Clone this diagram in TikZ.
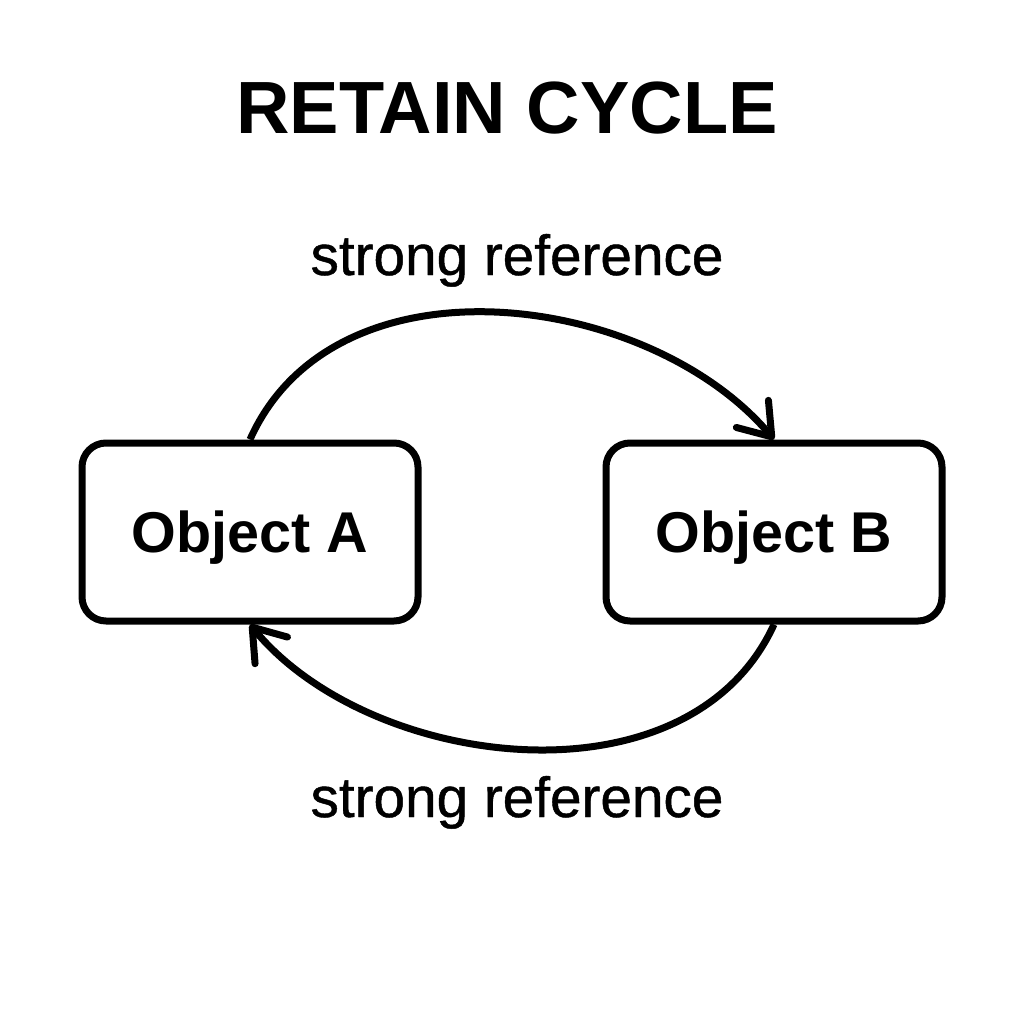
\documentclass[tikz,border=0pt]{standalone}
\usepackage{fontspec}
\setmainfont{Liberation Sans}
\usetikzlibrary{arrows.meta,calc}
\tikzstyle{line} = [draw, line width=7pt, -{Straight Barb[length=30pt,width=42pt,round]}]
\tikzstyle{object} = [draw, line width=7pt, rectangle, rounded corners=24pt, text centered, minimum width=336pt, minimum height=178pt, text depth=0pt, font=\fontsize{57.5}{68}\selectfont\bfseries]
\tikzstyle{reflabel} = [anchor=base, font=\fontsize{56.7}{68}\selectfont\addfontfeature{FakeBold=0.8}]
\tikzstyle{heading} = [font=\fontsize{74}{88}\selectfont\bfseries]

\begin{document}
\begin{tikzpicture}[x=1pt, y=-1pt]
        \useasboundingbox (0,0) rectangle (1024,1024);
        \node[heading] (title) at (507,108) {RETAIN CYCLE};
        \node[object] (a) at (250,532) {Object A};
        \node[object] (b) at (774,532) {Object B};
        \node[reflabel] (top) at (517,275) {strong reference};
        \node[reflabel] (bottom) at (517,817) {strong reference};
        \path[line] (a.north) .. controls +(85,-190) and +(-125,-148) .. (b.north);
        \path[line] (b.south) .. controls +(-85,186) and +(120,146) .. (a.south);
    \end{tikzpicture}
\end{document}
